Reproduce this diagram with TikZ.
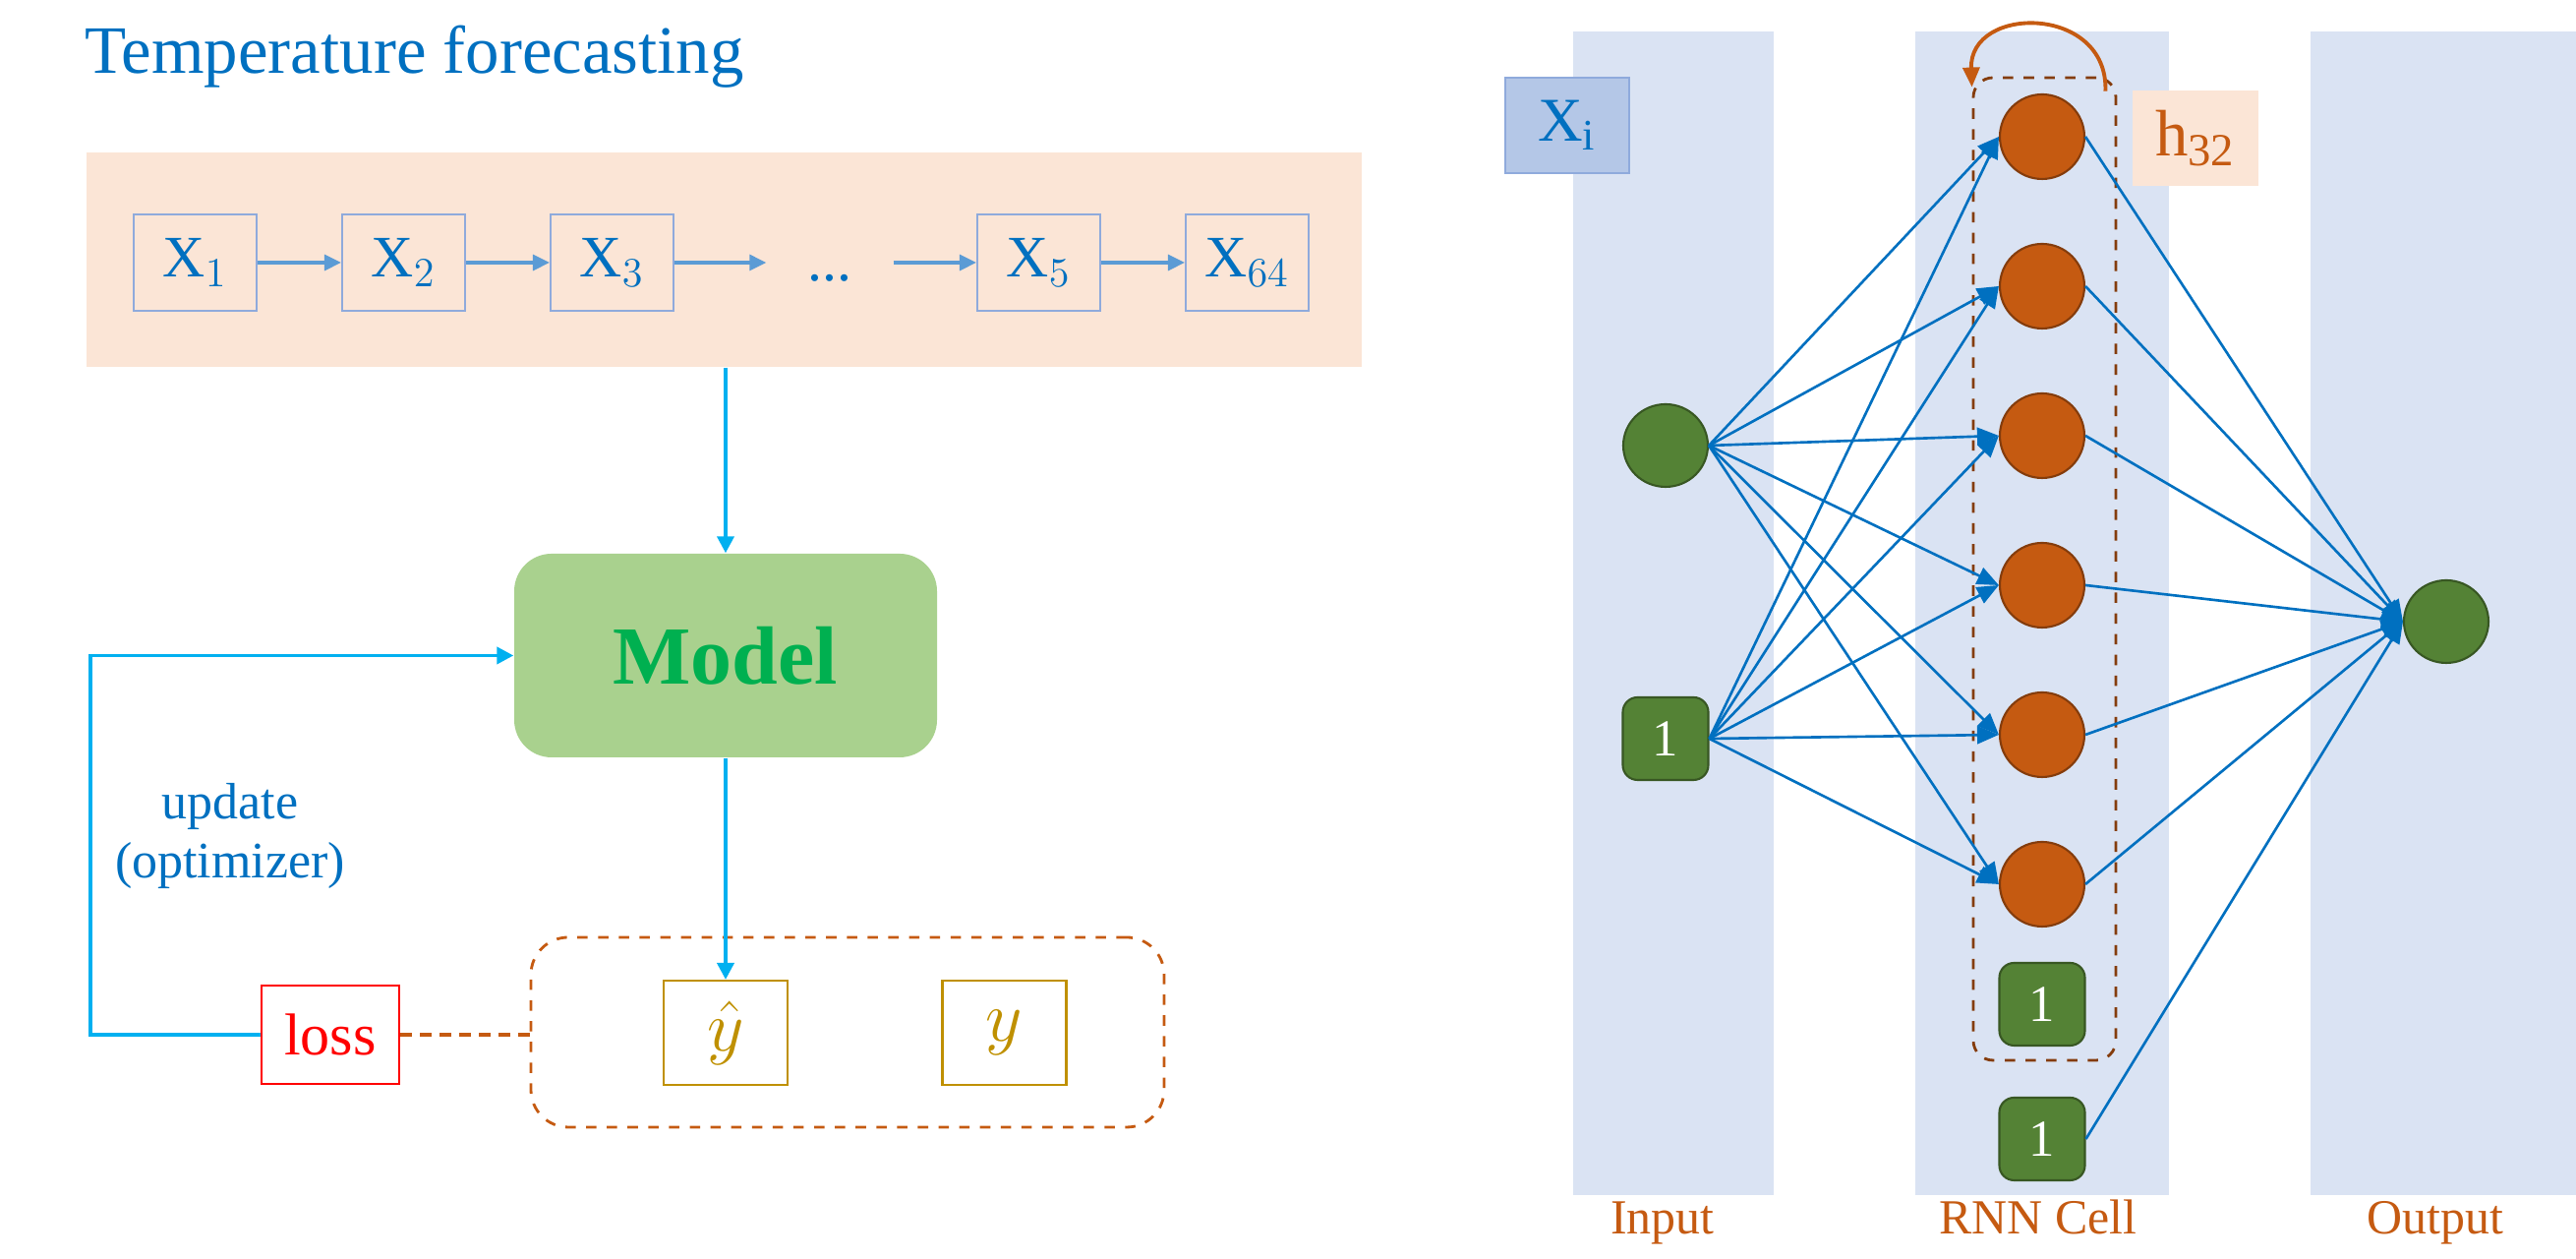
\documentclass[tikz,border=0pt]{standalone}
\usepackage{fontspec}
\setmainfont{Liberation Serif}
\usepackage{amsmath}
\usetikzlibrary{calc,shapes.geometric,arrows.meta}

\definecolor{textblue}{HTML}{0070C0}
\definecolor{boxblue}{HTML}{8FAADC}
\definecolor{seqarrow}{HTML}{5B9BD5}
\definecolor{cyanline}{HTML}{00B0F0}
\definecolor{peach}{HTML}{FBE5D6}
\definecolor{modelfill}{HTML}{A9D18E}
\definecolor{modeltext}{HTML}{00B050}
\definecolor{gold}{HTML}{BF9000}
\definecolor{rust}{HTML}{C55A11}
\definecolor{darkrust}{HTML}{843C0C}
\definecolor{lanefill}{HTML}{DAE3F3}
\definecolor{xifill}{HTML}{B4C7E7}
\definecolor{unitgreen}{HTML}{548235}
\definecolor{unitborder}{HTML}{385723}

\tikzset{
  seqbox/.style={draw=boxblue,line width=0.6pt,minimum width=1.25cm,minimum height=0.98cm,
    inner sep=0pt,text=textblue,font=\fontsize{17}{20}\selectfont},
  seqarr/.style={draw=seqarrow,line width=0.9pt,-{Triangle[length=0.17cm,width=0.16cm]}},
  flow/.style={draw=cyanline,line width=1.1pt,-{Triangle[length=0.17cm,width=0.17cm]}},
  predbox/.style={draw=gold,line width=0.6pt,minimum width=1.26cm,minimum height=1.06cm,
    inner sep=0pt,text=gold,font=\fontsize{20}{24}\selectfont},
  hidden/.style={ellipse,fill=rust,draw=darkrust,line width=0.6pt,minimum width=0.86cm,
    minimum height=0.86cm,inner sep=0pt},
  unit/.style={ellipse,fill=unitgreen,draw=unitborder,line width=0.6pt,minimum width=0.86cm,
    minimum height=0.84cm,inner sep=0pt},
  bias/.style={rectangle,rounded corners=0.15cm,fill=unitgreen,draw=unitborder,line width=0.6pt,
    minimum width=0.87cm,minimum height=0.84cm,inner sep=0pt,text=white,font=\fontsize{15}{18}\selectfont},
  wire/.style={draw=textblue,line width=0.75pt,-{Triangle[length=0.22cm,width=0.18cm]}},
  lanelabel/.style={anchor=base,text=rust,font=\fontsize{14.2}{17}\selectfont}
}
\newcommand{\hidunit}[2]{\node[hidden] (#1) at (20.77,#2) {};}
\newcommand{\nnlink}[2]{\draw[wire] (#1) -- (#2);}

\begin{document}
\begin{tikzpicture}
\useasboundingbox (0,0) rectangle (26.2,12.8);

% forecasting pipeline
\node[anchor=base west,text=textblue,font=\fontsize{19.6}{23}\selectfont] (title) at (0.74,12.05) {Temperature forecasting};
\node[fill=peach,minimum width=12.97cm,minimum height=2.18cm,inner sep=0pt] (seq) at (7.365,10.16) {};

\node[seqbox] (x1) at (1.985,10.13) {$\mathrm{X}_1$};
\node[seqbox] (x2) at (4.105,10.13) {$\mathrm{X}_2$};
\node[seqbox] (x3) at (6.225,10.13) {$\mathrm{X}_3$};
\node[text=textblue,font=\fontsize{17}{20}\selectfont,minimum width=1.28cm,inner sep=0pt] (dots) at (8.44,9.97) {...};
\node[seqbox] (x5) at (10.565,10.13) {$\mathrm{X}_5$};
\node[seqbox] (x64) at (12.685,10.13) {$\mathrm{X}_{64}$};

\draw[seqarr] (x1) -- (x2);
\draw[seqarr] (x2) -- (x3);
\draw[seqarr] (x3) -- (x3 -| dots.west);
\draw[seqarr] (dots.east |- x5) -- (x5);
\draw[seqarr] (x5) -- (x64);

\node[rounded corners=0.38cm,fill=modelfill,minimum width=4.30cm,minimum height=2.07cm,text=modeltext,
  font=\bfseries\fontsize{23.9}{28}\selectfont] (model) at (7.38,6.135) {Model};
\draw[flow] (model.north |- seq.south) -- (model.north);

\node[draw=rust,dashed,rounded corners=0.38cm,line width=0.8pt,minimum width=6.44cm,minimum height=1.93cm] (pair) at (8.62,2.305) {};
\node[predbox] (yhat) at (7.38,2.30) {$\hat{y}$};
\node[predbox] (ytrue) at (10.215,2.30) {$y$};
\draw[flow] (model.south) -- (yhat.north);

\node[draw=red,line width=0.6pt,minimum width=1.40cm,minimum height=1.00cm,inner sep=0pt,text=red,
  font=\fontsize{17.1}{20}\selectfont] (loss) at (3.36,2.28) {loss};
\draw[rust,dash pattern=on 0.12cm off 0.08cm,line width=0.9pt] (loss.east) -- (loss.east -| pair.west);

\coordinate (back) at (0.92,2.28);
\draw[flow] (loss.west) -- (back) -- (back |- model.west) -- (model.west);
\node[text=textblue,align=center,font=\fontsize{14.8}{17.3}\selectfont] (upd) at (2.34,4.30) {update\\(optimizer)};

% rnn network
\fill[lanefill] (16.00,0.65) rectangle (18.04,12.48);
\fill[lanefill] (19.48,0.65) rectangle (22.06,12.48);
\fill[lanefill] (23.50,0.65) rectangle (26.20,12.48);

\node[lanelabel] (lblin) at (16.91,0.25) {Input};
\node[lanelabel] (lblcell) at (20.73,0.25) {RNN Cell};
\node[lanelabel] (lblout) at (24.77,0.25) {Output};

\node[fill=xifill,draw=boxblue,line width=0.6pt,minimum width=1.26cm,minimum height=0.97cm,inner sep=0pt,
  text=textblue,font=\fontsize{18}{21}\selectfont] (xi) at (15.94,11.525) {X\textsubscript{i}};

\node[draw=darkrust,dashed,rounded corners=0.2cm,line width=0.8pt,minimum width=1.45cm,minimum height=9.99cm] (cell) at (20.795,7.015) {};
\node[fill=peach,minimum width=1.28cm,minimum height=0.97cm,inner sep=0pt,text=rust,
  font=\fontsize{19}{22}\selectfont] (hlab) at (22.33,11.395) {h\textsubscript{32}};

\coordinate (loopa) at ($(cell.north east)+(-0.12,-0.15)$);
\coordinate (loopb) at ($(cell.north west)+(0,-0.11)$);
\draw[rust,line width=1.1pt,-{Triangle[length=0.2cm,width=0.17cm]}] (loopa) .. controls ($(loopa)+(0.03,0.88)$) and ($(loopb)+(-0.03,0.84)$) .. (loopb);

\node[unit] (in1) at (16.94,8.27) {};
\node[bias] (b1) at (16.94,5.29) {1};

\hidunit{h1}{11.41}
\hidunit{h2}{9.89}
\hidunit{h3}{8.37}
\hidunit{h4}{6.85}
\hidunit{h5}{5.33}
\hidunit{h6}{3.81}
\node[bias] (b2) at (20.77,2.59) {1};
\node[bias] (b3) at (20.77,1.22) {1};

\node[unit] (out) at (24.88,6.48) {};

\nnlink{in1.east}{h1.west}
\nnlink{in1.east}{h2.west}
\nnlink{in1.east}{h3.west}
\nnlink{in1.east}{h4.west}
\nnlink{in1.east}{h5.west}
\nnlink{in1.east}{h6.west}

\nnlink{b1.east}{h1.west}
\nnlink{b1.east}{h2.west}
\nnlink{b1.east}{h3.west}
\nnlink{b1.east}{h4.west}
\nnlink{b1.east}{h5.west}
\nnlink{b1.east}{h6.west}

\nnlink{h1.east}{out.west}
\nnlink{h2.east}{out.west}
\nnlink{h3.east}{out.west}
\nnlink{h4.east}{out.west}
\nnlink{h5.east}{out.west}
\nnlink{h6.east}{out.west}
\nnlink{b3.east}{out.west}

\end{tikzpicture}
\end{document}
